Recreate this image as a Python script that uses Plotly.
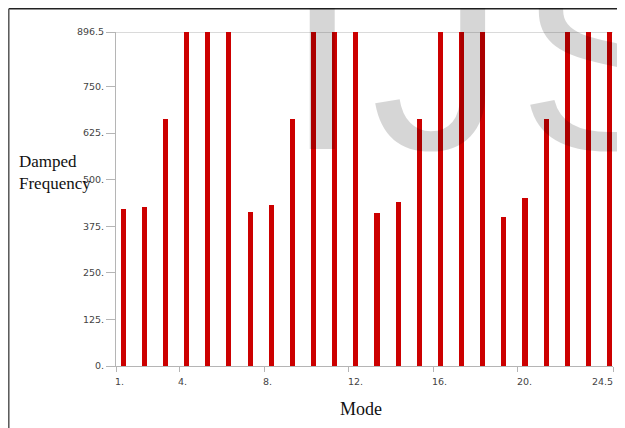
import plotly.graph_objects as go

# ---- data ----
modes = list(range(1, 25))
damped_freq = [421, 428, 663, 1000, 1000, 1000,
               414, 432, 663, 1000, 1000, 1000,
               410, 441, 663, 1000, 1000, 1000,
               399, 450, 663, 1000, 1000, 1000]
x_tick_vals = [1, 4, 8, 12, 16, 20, 24.5]
x_tick_text = ["1.", "4.", "8.", "12.", "16.", "20.", "24.5"]
y_tick_vals = [0, 125, 250, 375, 500, 625, 750, 896.5]
y_tick_text = ["0.", "125.", "250.", "375.", "500.", "625.", "750.", "896.5"]
x_range = [1, 24.5]
y_range = [0, 896.5]

# page has an 8px body margin; design in page pixels
OFF = 8
PAGE_W, PAGE_H = 625, 428
W, H = PAGE_W - OFF, PAGE_H - OFF
PL, PR, PT, PB = 116, 613, 32, 366          # plot area in page pixels
ML, MR, MT, MB = PL - OFF, PAGE_W - PR, PT - OFF, PAGE_H - PB
PW, PH = PR - PL, PB - PT


def px_x(p):
    return (p - PL) / PW


def px_y(p):
    return (PB - p) / PH


fig = go.Figure()
fig.add_trace(go.Bar(
    x=modes, y=damped_freq,
    width=0.24, offset=0.22,
    marker=dict(color="#cc0000", line=dict(width=0)),
    showlegend=False,
))

axis_gray = "#b5b5b5"
tick_font = dict(family="DejaVu Sans", size=9.5, color="#444444")

annotations = []
# x tick labels (left-aligned at ticks, last one right-aligned)
for i, (v, t) in enumerate(zip(x_tick_vals, x_tick_text)):
    last = i == len(x_tick_vals) - 1
    annotations.append(dict(
        x=v, xref="x", y=px_y(381), yref="paper",
        text=t, showarrow=False,
        xanchor="right" if last else "left", yanchor="middle",
        xshift=2 if last else -3,
        font=tick_font,
    ))

# axis titles
annotations.append(dict(
    x=px_x(17), xref="paper", y=px_y(172), yref="paper",
    text="Damped<br>Frequency", showarrow=False, align="left",
    xanchor="left", yanchor="middle",
    font=dict(family="Liberation Serif", size=17, color="#111111"),
))
annotations.append(dict(
    x=px_x(361), xref="paper", y=px_y(409), yref="paper",
    text="Mode", showarrow=False, xanchor="center", yanchor="middle",
    font=dict(family="Liberation Serif", size=18, color="#111111"),
))
# watermark letters
wm_font = dict(family="Liberation Sans", size=268, color="rgba(0,0,0,0.16)")
for letter, left in (("I", 283), ("J", 369), ("S", 516)):
    annotations.append(dict(
        x=px_x(left), xref="paper", y=px_y(-96), yref="paper",
        text=letter, showarrow=False, xanchor="left", yanchor="top",
        font=wm_font,
    ))

shapes = [
    # top line at max
    dict(type="line", xref="paper", yref="y", x0=0, x1=1, y0=896.5, y1=896.5,
         line=dict(color=axis_gray, width=1), layer="below"),
    # outer frame (top and left)
    dict(type="line", xref="paper", yref="paper", x0=px_x(OFF + 0.8), x1=px_x(640),
         y0=px_y(OFF + 0.8), y1=px_y(OFF + 0.8), line=dict(color="#222222", width=1.5)),
    dict(type="line", xref="paper", yref="paper", x0=px_x(OFF + 0.8), x1=px_x(OFF + 0.8),
         y0=px_y(OFF + 0.8), y1=px_y(440), line=dict(color="#555555", width=1.5)),
]

fig.update_layout(
    width=W, height=H,
    margin=dict(l=ML, r=MR, t=MT, b=MB),
    paper_bgcolor="white", plot_bgcolor="white",
    xaxis=dict(range=x_range, tickvals=x_tick_vals, showticklabels=False,
               ticks="outside", ticklen=5, tickcolor=axis_gray,
               showline=True, linecolor=axis_gray, linewidth=1,
               showgrid=False, zeroline=False),
    yaxis=dict(range=y_range, tickvals=y_tick_vals, ticktext=y_tick_text,
               ticks="outside", ticklen=9, tickcolor=axis_gray,
               tickfont=tick_font,
               showline=True, linecolor=axis_gray, linewidth=1,
               showgrid=False, zeroline=False),
    annotations=annotations,
    shapes=shapes,
    bargap=0,
)

fig.write_html("out.html")
